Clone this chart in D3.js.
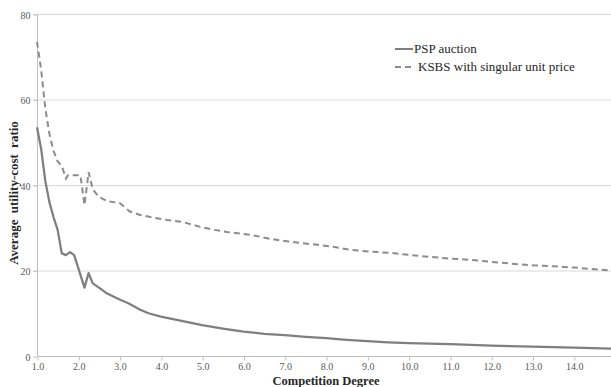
<!DOCTYPE html>
<meta charset="utf-8">
<style>
body { margin: 0; background: #fff; }
svg text { font-family: "Liberation Serif", "Times New Roman", serif; }
.grid line { stroke: #d9d9d9; stroke-width: 1px; }
.axis text { fill: #595959; font-size: 10px; }
.axis path, .axis line { stroke: #bfbfbf; }
.title { font-weight: bold; font-size: 12.5px; fill: #262626; }
.legend text { font-size: 13px; fill: #262626; }
</style>
<svg width="611" height="387"></svg>
<script src="https://cdn.jsdelivr.net/npm/d3@7"></script>
<script>

// competition degree (x) and average utility-cost ratio (y)
var pspDegree = [1.0, 1.1, 1.2, 1.3, 1.4, 1.5, 1.6, 1.7, 1.8, 1.9, 2.15, 2.25, 2.35, 2.5, 2.7, 3.0, 3.2, 3.5, 3.7, 4.0, 4.5, 5.0, 5.5, 6.0, 6.5, 7.0, 7.5, 8.0, 8.5, 9.0, 9.5, 10.0, 11.0, 12.0, 13.0, 14.0, 14.9]
var pspRatio  = [53.5, 48.5, 41, 36, 32.5, 29.5, 24, 23.6, 24.3, 23.6, 16, 19.4, 17, 16, 14.6, 13.2, 12.4, 10.8, 10.0, 9.2, 8.2, 7.2, 6.4, 5.7, 5.2, 4.9, 4.5, 4.2, 3.8, 3.5, 3.2, 3.0, 2.8, 2.4, 2.2, 1.95, 1.7]

var ksbsDegree = [1.0, 1.1, 1.2, 1.3, 1.4, 1.5, 1.6, 1.7, 1.75, 2.05, 2.15, 2.25, 2.35, 2.5, 2.7, 3.0, 3.25, 3.5, 3.75, 4.15, 4.55, 4.95, 5.3, 5.6, 6.2, 6.65, 7.0, 7.4, 7.8, 8.2, 8.6, 9.25, 9.6, 10.05, 10.5, 11.0, 11.5, 12.0, 12.5, 13.0, 13.5, 14.0, 14.5, 14.9]
var ksbsRatio  = [73.5, 67, 58, 52, 48, 45.5, 44.5, 41.5, 42.3, 42.3, 35.3, 43, 39, 37.2, 36.2, 35.8, 33.8, 33, 32.5, 31.8, 31.3, 30.2, 29.5, 29.0, 28.3, 27.4, 26.9, 26.4, 26.0, 25.5, 24.8, 24.3, 24.1, 23.6, 23.2, 22.8, 22.5, 22.0, 21.6, 21.2, 21.0, 20.7, 20.3, 20.0]

var yTicks = [0, 20, 40, 60, 80]
var xTicks = [1, 2, 3, 4, 5, 6, 7, 8, 9, 10, 11, 12, 13, 14]
var seriesNames = ["PSP auction", "KSBS with singular unit price"]

var svg = d3.select("svg")

var x = d3.scaleLinear().domain([1.0, 14.9]).range([37, 611])
var y = d3.scaleLinear().domain([0, 80]).range([356, 14])

// horizontal gridlines
svg.append("g").attr("class", "grid")
  .selectAll("line")
  .data(yTicks.slice(1))
  .enter().append("line")
    .attr("x1", 33).attr("x2", 611)
    .attr("y1", function(d) { return y(d) + 0.5 })
    .attr("y2", function(d) { return y(d) + 0.5 })

// y axis
var yAxis = svg.append("g").attr("class", "axis")
  .attr("transform", "translate(37.5,0.5)")
  .call(d3.axisLeft(y).tickValues(yTicks).tickSize(4).tickPadding(3).tickFormat(d3.format("d")))
yAxis.attr("font-family", null)
yAxis.select(".domain").attr("d", "M0," + y(80) + "V" + y(0))
yAxis.selectAll("text").attr("dy", "0.35em")

// x axis
var xAxis = svg.append("g").attr("class", "axis")
  .attr("transform", "translate(0.5," + (y(0) + 0.5) + ")")
  .call(d3.axisBottom(x).tickValues(xTicks).tickSize(4).tickPadding(2).tickFormat(d3.format(".1f")))
xAxis.attr("font-family", null)
xAxis.select(".domain").attr("d", "M" + x(1) + ",0H611")

var line = d3.line()
  .x(function(d) { return x(d[0]) })
  .y(function(d) { return y(d[1]) })

svg.append("path")
  .datum(d3.zip(pspDegree, pspRatio))
  .attr("d", line)
  .attr("fill", "none")
  .attr("stroke", "#7f7f7f")
  .attr("stroke-width", 2.25)
  .attr("stroke-linejoin", "round")

svg.append("path")
  .datum(d3.zip(ksbsDegree, ksbsRatio))
  .attr("d", line)
  .attr("fill", "none")
  .attr("stroke", "#8c8c8c")
  .attr("stroke-width", 2)
  .attr("stroke-dasharray", "6,4")

// legend
var legend = svg.append("g").attr("class", "legend")
legend.append("line")
  .attr("x1", 395).attr("x2", 413).attr("y1", 49).attr("y2", 49)
  .attr("stroke", "#7f7f7f").attr("stroke-width", 2)
legend.append("text").attr("x", 414).attr("y", 53).text(seriesNames[0])
legend.append("line")
  .attr("x1", 395).attr("x2", 415).attr("y1", 67).attr("y2", 67)
  .attr("stroke", "#8c8c8c").attr("stroke-width", 2)
  .attr("stroke-dasharray", "6,4")
legend.append("text").attr("x", 418).attr("y", 71).text(seriesNames[1])

// axis titles
svg.append("text").attr("class", "title")
  .attr("x", 326).attr("y", 385)
  .attr("text-anchor", "middle")
  .text("Competition Degree")

svg.append("text").attr("class", "title")
  .attr("transform", "translate(18,193) rotate(-90)")
  .attr("text-anchor", "middle")
  .style("font-size", "13px")
  .style("word-spacing", "3px")
  .text("Average utility-cost ratio")

</script>
